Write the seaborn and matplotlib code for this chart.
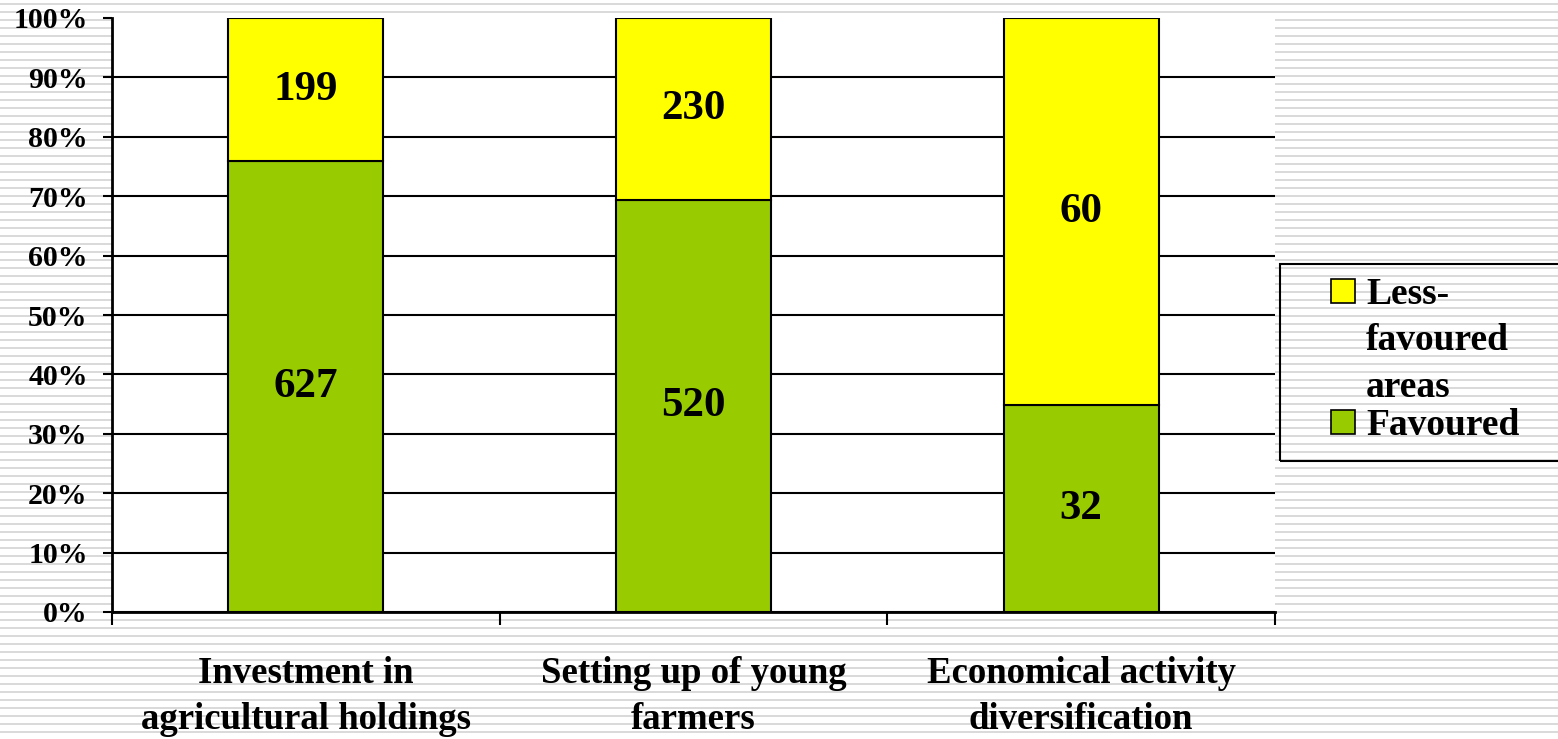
import numpy as np
import pandas as pd
import matplotlib
matplotlib.use("Agg")
import matplotlib.pyplot as plt
import seaborn as sns
from matplotlib.patches import Rectangle
from matplotlib.transforms import IdentityTransform
from matplotlib.ticker import FixedLocator

# ---- data ----
categories = ["Investment in\nagricultural holdings",
              "Setting up of young\nfarmers",
              "Economical activity\ndiversification"]
favoured = [627, 520, 32]
less_favoured = [199, 230, 60]
series_names = ["Less-\nfavoured\nareas", "Favoured"]
yticks = list(range(0, 101, 10))
ytick_labels = [f"{v}%" for v in yticks]

GREEN = "#99CC00"
YELLOW = "#FFFF00"

sns.set_theme(style="white")
plt.rcParams["font.family"] = ["Liberation Serif", "DejaVu Serif"]
plt.rcParams["font.weight"] = "bold"
for k in ["text.color", "axes.labelcolor", "xtick.color", "ytick.color"]:
    plt.rcParams[k] = "black"

W, H, DPI = 1558, 739, 100
fig = plt.figure(figsize=(W / DPI, H / DPI), dpi=DPI)
fig.patch.set_facecolor("white")

# striped background
bg = np.ones((H, W, 3))
rows = np.arange(H)
mask = (rows % 8 == 3) | (rows % 8 == 4)
bg[mask, :, :] = 0xDA / 255.0
fig.figimage(bg, xo=0, yo=0, origin="upper", zorder=-10)

ax = fig.add_axes([112 / W, 1 - 612 / H, (1275 - 112) / W, (612 - 18) / H])
ax.set_zorder(1)
ax.set_facecolor("white")

tot = np.array(favoured) + np.array(less_favoured)
df = pd.DataFrame({
    "cat": categories,
    "fav_pct": np.array(favoured) / tot * 100,
    "less_pct": np.array(less_favoured) / tot * 100,
})

sns.barplot(data=df, x="cat", y="fav_pct", color=GREEN, saturation=1,
            width=0.4, edgecolor="black", linewidth=1.5, ax=ax, zorder=3)
sns.barplot(data=df, x="cat", y="less_pct", color=YELLOW, saturation=1,
            width=0.4, edgecolor="black", linewidth=1.5, ax=ax, zorder=3,
            bottom=df["fav_pct"].values)

ax.bar_label(ax.containers[0], labels=[str(v) for v in favoured],
             label_type="center", fontsize=31, fontweight="bold", color="black")
ax.bar_label(ax.containers[1], labels=[str(v) for v in less_favoured],
             label_type="center", fontsize=31, fontweight="bold", color="black")

ax.set_ylim(0, 100)
ax.set_xlim(-0.5, 2.5)
ax.set_yticks(yticks)
ax.set_yticklabels(ytick_labels, fontsize=21.5, fontweight="bold")
ax.yaxis.grid(True, color="black", linewidth=1.5)
ax.get_ygridlines()[-1].set_visible(False)
ax.set_axisbelow(True)

ax.xaxis.set_major_locator(FixedLocator([-0.5, 0.5, 1.5, 2.5]))
ax.xaxis.set_minor_locator(FixedLocator([0, 1, 2]))
ax.set_xticklabels([], minor=False)
ax.set_xticklabels(categories, minor=True, fontsize=26.5, fontweight="bold",
                   linespacing=1.38)
ax.tick_params(axis="x", which="major", length=9, width=1.5, color="black",
               direction="out", bottom=True)
ax.tick_params(axis="x", which="minor", length=0, pad=32)
ax.tick_params(axis="y", which="major", length=6.5, width=1.5, color="black",
               direction="out", left=True, pad=11)
ax.set_xlabel("")
ax.set_ylabel("")

for s in ["top", "right"]:
    ax.spines[s].set_visible(False)
for s in ["left", "bottom"]:
    ax.spines[s].set_visible(True)
    ax.spines[s].set_color("black")
    ax.spines[s].set_linewidth(2)

# legend (manual box, in pixel coordinates)
def px(x, y):
    return x, H - y

tr = IdentityTransform()
x0, y0 = px(1280, 461)
fig.add_artist(Rectangle((x0, y0), 400, 461 - 264, transform=tr,
                         fill=False, edgecolor="black", linewidth=1.5,
                         zorder=5))
handle_info = [(YELLOW, 279), (GREEN, 410)]
for col, ytop in handle_info:
    hx, hy = px(1331, ytop + 24)
    fig.add_artist(Rectangle((hx, hy), 24, 24, transform=tr,
                             facecolor=col, edgecolor="black", linewidth=1.2,
                             zorder=6))
legend_lines = series_names[0].split("\n") + [series_names[1]]
baselines = [304, 350, 397, 435]
for txt, by in zip(legend_lines, baselines):
    tx, ty = px(1366, by)
    fig.text(tx / W, ty / H, txt, fontsize=27, fontweight="bold",
             ha="left", va="baseline", zorder=6)

fig.savefig("out.png", dpi=DPI)
